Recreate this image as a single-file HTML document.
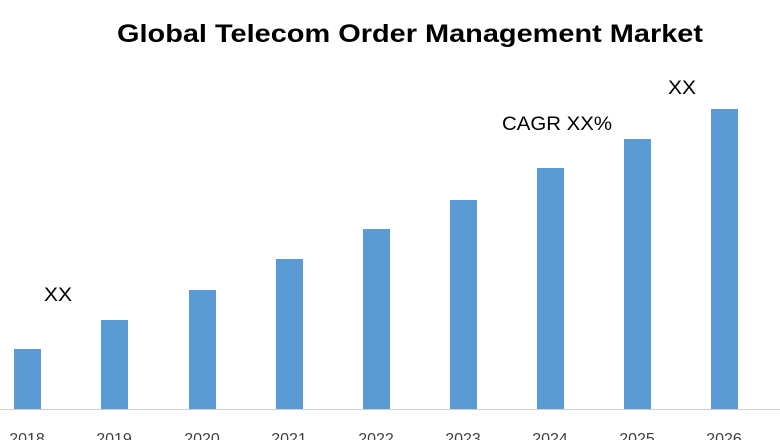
<!DOCTYPE html>
<html><head><meta charset="utf-8"><style>html,body{margin:0;padding:0;background:#fff;}svg{display:block}</style></head>
<body>
<svg width="780" height="440" xmlns="http://www.w3.org/2000/svg" font-family="Liberation Sans, sans-serif">
<text x="117" y="42" font-size="25" font-weight="bold" fill="#000" textLength="586" lengthAdjust="spacingAndGlyphs">Global Telecom Order Management Market</text>
<line x1="0" y1="409.5" x2="780" y2="409.5" stroke="#d0d0d0" stroke-width="1"/>
<g fill="#5b9bd5">
<rect x="14" y="349" width="27" height="60"/>
<rect x="101" y="320" width="27" height="89"/>
<rect x="189" y="290" width="27" height="119"/>
<rect x="276" y="259" width="27" height="150"/>
<rect x="363" y="229" width="27" height="180"/>
<rect x="450" y="200" width="27" height="209"/>
<rect x="537" y="168" width="27" height="241"/>
<rect x="624" y="139" width="27" height="270"/>
<rect x="711" y="109" width="27" height="300"/>
</g>
<g font-size="16" fill="#404040" text-anchor="middle">
<text x="27" y="444">2018</text>
<text x="114" y="444">2019</text>
<text x="202" y="444">2020</text>
<text x="289" y="444">2021</text>
<text x="376" y="444">2022</text>
<text x="463" y="444">2023</text>
<text x="550" y="444">2024</text>
<text x="637" y="444">2025</text>
<text x="724" y="444">2026</text>
</g>
<g font-size="19" fill="#000">
<text x="44" y="301" textLength="28" lengthAdjust="spacingAndGlyphs">XX</text>
<text x="502" y="130" textLength="110" lengthAdjust="spacingAndGlyphs">CAGR XX%</text>
<text x="668" y="94" textLength="28" lengthAdjust="spacingAndGlyphs">XX</text>
</g>
</svg>
</body></html>
